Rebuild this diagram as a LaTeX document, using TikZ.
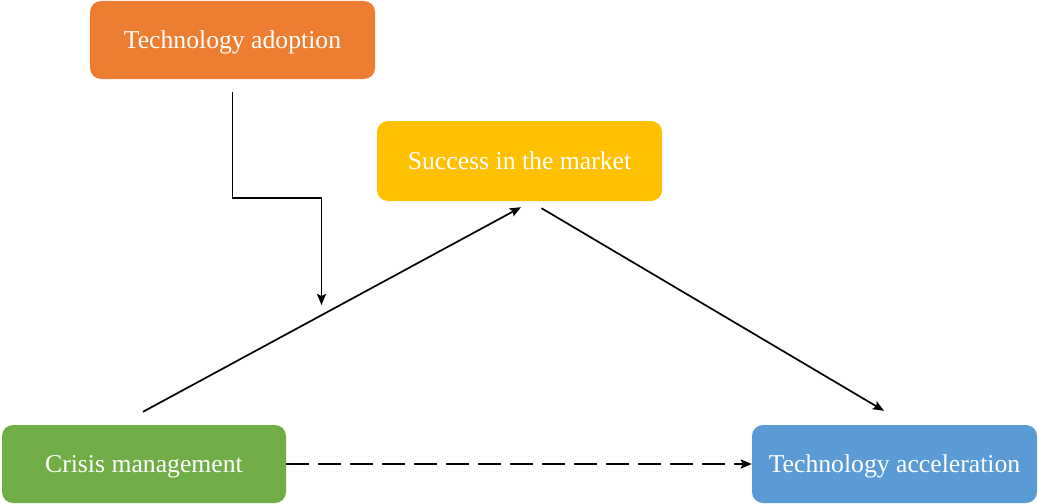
\documentclass[tikz,border=0pt]{standalone}
\usepackage{fontspec}
\setmainfont{Liberation Serif}
\usetikzlibrary{arrows.meta}
\definecolor{boxorange}{HTML}{ED7D31}
\definecolor{boxgold}{HTML}{FFC000}
\definecolor{boxgreen}{HTML}{70AD47}
\definecolor{boxblue}{HTML}{5B9BD5}
\tikzset{
  box/.style={rounded corners=11pt, inner sep=0pt, minimum width=285pt,
    text=white, font=\fontsize{25.7}{30}\selectfont,
    text height=17pt, text depth=0pt},
  link/.style={line width=1.7pt, -{Stealth[length=11pt,width=9pt,inset=2pt]}},
  dashlink/.style={line width=2.4pt, dash pattern=on 23pt off 9pt,
    -{Stealth[length=11pt,width=9pt,inset=2pt]}}
}
\begin{document}
\begin{tikzpicture}[x=1pt,y=-1pt]
  \useasboundingbox (0,0) rectangle (1038,503);
  % boxes
  \node[box, fill=boxorange, minimum height=78pt] (adoption) at (232.5,40) {Technology adoption};
  \node[box, fill=boxgold, minimum height=80pt] (success) at (519.5,161) {Success in the market};
  \node[box, fill=boxgreen, minimum width=284pt, minimum height=78pt] (crisis) at (144,464) {Crisis management};
  \node[box, fill=boxblue, minimum height=78pt] (accel) at (894.5,464) {Technology acceleration};
  % moderating path onto the lower-left link
  \coordinate (modtip) at (321.5,305);
  \draw[link] ([yshift=-13pt]adoption.south) |- (321.5,198) -- (modtip);
  % main paths
  \draw[link] ([xshift=-1pt,yshift=13pt]crisis.north) -- ([xshift=1.5pt,yshift=-6pt]success.south);
  \draw[link] ([xshift=22pt,yshift=-7pt]success.south) -- ([xshift=-10.5pt,yshift=14pt]accel.north);
  \draw[dashlink] (crisis.east) -- (accel.west);
\end{tikzpicture}
\end{document}
